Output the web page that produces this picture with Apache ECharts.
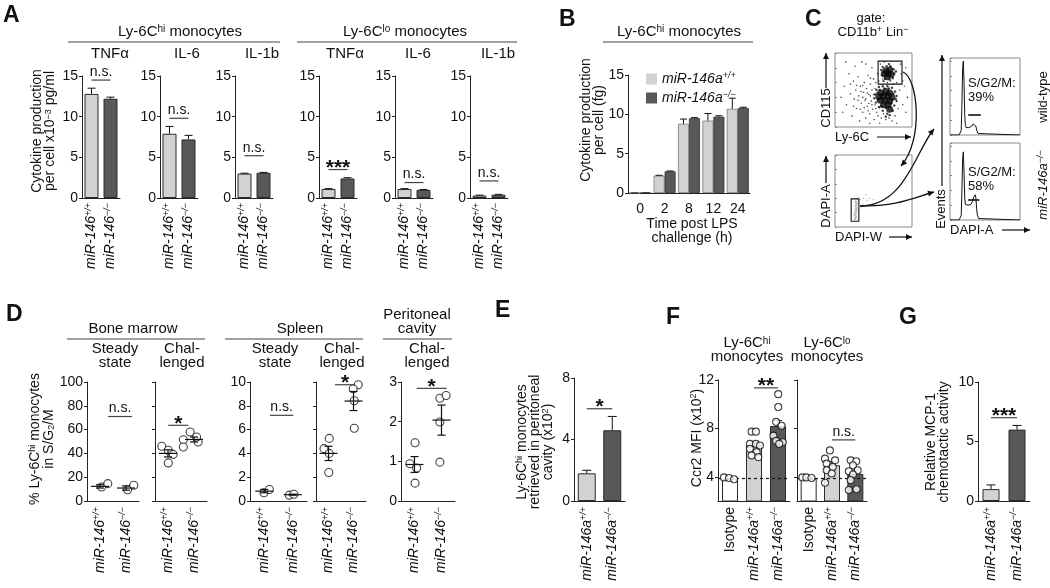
<!DOCTYPE html>
<html><head><meta charset="utf-8">
<script src="https://cdn.jsdelivr.net/npm/echarts@6.0.0/dist/echarts.min.js"></script>
<style>html,body{margin:0;padding:0;background:#fff}#c{width:1050px;height:588px}</style>
</head><body><div id="c"></div>
<script>
// ======================= DATA =======================
// ---- Panel A: cytokine production per cell ----
const aCats = ['miR-146+/+', 'miR-146−/−'];
const aTitles = ['TNFα', 'IL-6', 'IL-1b', 'TNFα', 'IL-6', 'IL-1b'];
const aWT = [12.8, 7.9, 3.0, 1.1, 1.1, 0.3];
const aWTErr = [0.7, 0.9, 0.05, 0.05, 0.05, 0.05];
const aKO = [12.2, 7.2, 3.1, 2.4, 1.0, 0.4];
const aKOErr = [0.2, 0.5, 0.05, 0.1, 0.05, 0.05];
const aSigText = ['n.s.', 'n.s.', 'n.s.', '***', 'n.s.', 'n.s.'];
const aSigY = [14.5, 9.8, 5.2, 3.5, 1.9, 2.1];
const aYMax = 15, aYStep = 5;

// ---- Panel B: time course ----
const bTimes = ['0', '2', '8', '12', '24'];
const bNames = ['miR-146a+/+', 'miR-146a−/−'];
const bWT = [0, 2.2, 8.8, 9.2, 10.7];
const bWTErr = [0, 0.05, 0.6, 0.9, 1.35];
const bKO = [0, 2.75, 9.5, 9.7, 10.8];
const bKOErr = [0, 0.05, 0.08, 0.12, 0.1];
const bYMax = 15, bYStep = 5;

// ---- Panel C: flow cytometry (plot units 0-100) ----
const cDotSparse = [[8,40],[10,20],[12,55],[14,88],[15,30],[18,72],[20,45],[22,15],[24,62],[25,38],[26,82],[27,50],[28,25],[30,68],[31,42],[32,8],[33,55],[34,32],[35,88],[36,20],[37,47],[38,60],[39,36],[40,12],[40,85],[41,52],[42,28],[43,70],[44,44],[45,18],[45,5],[46,58],[47,35],[48,50],[48,80],[49,24],[50,65],[51,10],[52,30],[53,60],[54,20],[55,72],[56,15],[57,62],[58,5],[58,26],[59,85],[60,12],[62,65],[63,18],[64,88],[66,10],[68,60],[70,12],[72,62],[74,8],[76,58],[78,15],[80,5],[80,60],[82,25],[84,50],[85,85],[86,72],[88,30],[88,62],[90,55],[92,20],[92,80],[94,40],[36,40],[42,46],[38,26],[44,32],[46,42],[34,48],[40,38],[48,30],[30,36],[28,56],[50,44],[43,22],[52,52],[36,56],[46,66],[33,24],[55,35],[53,25],[24,28],[20,58]];
const cDotHalo = [[52,44],[54,50],[57,54],[62,55],[68,55],[74,53],[78,48],[80,42],[80,35],[77,29],[75,22],[68,18],[62,22],[57,27],[53,33],[51,39],[55,46],[76,45],[60,28],[73,32],[56,38],[66,26],[79,38],[70,52],[64,52],[58,50],[71,16],[66,14],[60,77],[62,81],[67,82],[72,82],[76,78],[77,72],[75,66],[71,64],[65,65],[61,70],[70,85],[79,75],[63,62]];
const cDotCore = [[60,46],[66,48],[71,46],[57,41],[63,42],[69,42],[74,40],[59,36],[65,36],[71,35],[63,30],[69,30],[71,24],[66,76],[71,77],[64,72],[69,72],[73,71],[68,68]];
const cGateHi = [56, 58, 87, 89];
const cDapiGated = [[26,11],[27,14],[26,17],[27,20],[27,23],[28,26],[27,29],[28,32],[27,35]];
const cDapiOther = [[33,38],[37,40],[42,37],[36,32],[45,40],[31,41],[40,45],[50,38],[34,28]];
const cGateDapi = [21, 8, 31, 39];
const hWT = [[0,0],[13,0],[15,1],[16,6],[17,40],[18,88],[19,100],[20,72],[21,28],[22,13],[23,10],[25,9],[27,10],[29,11],[31,12],[33,15],[35,16],[37,12],[38,7],[40,2],[42,0],[100,0]];
const hKO = [[0,0],[13,0],[15,1],[16,6],[17,38],[18,82],[19,92],[20,66],[21,30],[22,21],[24,19],[26,20],[28,18],[30,21],[32,25],[34,31],[35,33],[36,34],[37,30],[38,16],[39,7],[41,2],[43,0],[100,0]];
const hGateWT = [26, 44, 27];
const hGateKO = [26, 42, 27];
const hLabels = ['S/G2/M:\n39%', 'S/G2/M:\n58%'];

// ---- Panel D: % in S/G2/M (x = category position incl. jitter) ----
const dCats = ['miR-146+/+', 'miR-146−/−'];
const dWT = [
  [[0.56,11.8],[0.8,14.6]],
  [[0.26,46],[0.51,42.6],[0.7,39.2],[0.51,32]],
  [[0.49,0.69],[0.68,0.97]],
  [[0.53,5.26],[0.32,4.4],[0.53,4.0],[0.51,2.4]],
  [[0.52,1.47],[0.33,0.94],[0.58,0.83],[0.52,0.45]]
];
const dKO = [
  [[1.56,9.5],[1.8,13.2]],
  [[1.35,58],[1.09,51.5],[1.66,49.6],[1.6,53.8],[1.09,45.4]],
  [[1.38,0.49],[1.54,0.57]],
  [[1.69,9.77],[1.49,9.43],[1.53,8.43],[1.53,6.11]],
  [[1.44,2.59],[1.67,2.66],[1.44,1.99],[1.44,0.98]]
];
const dMean = [[12.3,10.9],[40,51.7],[0.83,0.53],[4.0,8.4],[0.92,2.04]];
const dSem = [[1.4,1.8],[3.0,2.1],[0.14,0.04],[0.6,0.8],[0.2,0.38]];
const dSig = [[0.81,1.73,71],[0.51,1.28,63.6],[0.7,1.52,7.2],[0.76,1.56,9.77],[0.58,1.69,2.84]];
const dSigText = ['n.s.', '*', 'n.s.', '*', '*'];
const dYMax = [100, 100, 10, 10, 3];
const dYStep = [20, 20, 2, 2, 1];
const dYLabels = [true, false, true, false, true];

// ---- Panel E ----
const eCats = ['miR-146a+/+', 'miR-146a−/−'];
const eMean = [1.8, 4.6];
const eErr = [0.2, 0.9];
const eSig = [0, 1, 6.0];
const eYMax = 8, eYStep = 4;

// ---- Panel F: Ccr2 MFI ----
const fCats = ['Isotype', 'miR-146a+/+', 'miR-146a−/−'];
const fHiMean = [3.8, 6.6, 8.2];
const fHiErr = [0.05, 0.2, 0.45];
const fLoMean = [3.85, 4.95, 4.25];
const fLoErr = [0.05, 0.3, 0.3];
const fHiPts = [
  [[-0.25,3.95],[-0.04,3.9],[0.17,3.8]],
  [[-0.1,7.73],[0.08,7.73],[-0.17,6.72],[0.08,6.72],[0.25,6.59],[-0.17,6.31],[0.11,6.04],[-0.1,5.77],[0.18,5.63]],
  [[0.01,10.83],[0.01,9.77],[-0.08,8.54],[0.15,8.22],[-0.19,7.4],[-0.08,6.97],[0.2,6.86],[0.05,6.72]]
];
const fLoPts = [
  [[-0.27,3.95],[-0.1,3.95],[0.12,3.9]],
  [[-0.09,6.18],[-0.3,5.5],[0.13,5.36],[-0.23,5.09],[0.03,4.82],[-0.23,4.54],[-0.01,4.27],[-0.3,3.51]],
  [[-0.2,5.36],[0.04,5.28],[-0.1,4.95],[0.1,4.54],[-0.28,4.46],[-0.1,4.19],[-0.2,3.73],[-0.28,2.91],[0.05,2.97]]
];
const fDashY = 3.9;
const fYMin = 2, fYMax = 12;
const fYTicks = [4, 8, 12];
const fHiSig = [0.9, 1.85, 11.35];
const fLoSig = [1.0, 1.9, 7.05];
const fSigText = ['**', 'n.s.'];

// ---- Panel G ----
const gCats = ['miR-146a+/+', 'miR-146a−/−'];
const gMean = [1.0, 6.0];
const gErr = [0.35, 0.35];
const gSig = [0, 1, 7.0];
const gYMax = 10, gYStep = 5;

// ======================= STYLE / BUILD =======================
const FF = '"Liberation Sans", Arial, Helvetica, sans-serif';
const INK = '#111';
const AX = '#222';
const WT_FILL = '#d2d2d2';
const KO_FILL = '#585858';
const ISO_FILL = '#ffffff';

const grids = [], xAxes = [], yAxes = [], series = [], graphic = [];

function richFor(size) {
  const sup = Math.round(size * 0.66);
  return {
    n: {fontFamily: FF, fontSize: size, color: INK, fill: INK, lineHeight: size + 2},
    i: {fontFamily: FF, fontSize: size, fontStyle: 'italic', color: INK, fill: INK, lineHeight: size + 2},
    s: {fontFamily: FF, fontSize: sup, color: INK, fill: INK, verticalAlign: 'top', lineHeight: sup + 1},
    si: {fontFamily: FF, fontSize: sup, fontStyle: 'italic', color: INK, fill: INK, verticalAlign: 'top', lineHeight: sup + 1},
    b: {fontFamily: FF, fontSize: sup, color: INK, fill: INK, verticalAlign: 'bottom', lineHeight: sup + 1}
  };
}
function catLabel(v) {
  const m = /^(.*?)([+−]\/[+−])$/.exec(v);
  if (m) return '{i|' + m[1] + '}{si|' + m[2] + '}';
  return '{n|' + v + '}';
}
function grid(left, top, width, height, extra) {
  grids.push(Object.assign({left: left, top: top, width: width, height: height}, extra || {}));
  return grids.length - 1;
}
function catAxis(gi, cats, o) {
  o = o || {};
  xAxes.push({type: 'category', gridIndex: gi, data: cats, boundaryGap: true,
    axisLine: {show: true, onZero: false, lineStyle: {color: AX, width: 1}},
    axisTick: {show: false},
    axisLabel: {show: true, interval: 0, rotate: o.rotate === undefined ? 90 : o.rotate, margin: o.margin || 5,
      formatter: o.fmt || catLabel, rich: richFor(14), color: INK, fontFamily: FF, fontSize: 14},
    splitLine: {show: false}});
  return xAxes.length - 1;
}
function hiddenX(gi, min, max) {
  xAxes.push({type: 'value', gridIndex: gi, min: min, max: max, show: false, splitLine: {show: false}});
  return xAxes.length - 1;
}
function valY(gi, min, max, interval, o) {
  o = o || {};
  const ax = {type: 'value', gridIndex: gi, min: min, max: max,
    axisLine: {show: true, lineStyle: {color: AX, width: 1}},
    axisTick: {show: true, length: 3, lineStyle: {color: AX}},
    axisLabel: {show: o.labels !== false, color: INK, fontFamily: FF, fontSize: 14, margin: 4},
    splitLine: {show: false}};
  if (interval) ax.interval = interval;
  if (o.custom) { ax.axisTick.customValues = o.custom; ax.axisLabel.customValues = o.custom; }
  yAxes.push(ax);
  return yAxes.length - 1;
}
function barStyle(fill) { return {color: fill, borderColor: '#2a2a2a', borderWidth: 1}; }
function errSeries(xi, yi, items, offsetPx, capW) {
  series.push({type: 'custom', xAxisIndex: xi, yAxisIndex: yi, z: 4, silent: true,
    data: items, encode: {x: 0, y: 1},
    renderItem: function (params, api) {
      const it = items[params.dataIndex];
      const pT = api.coord([it[0], it[1] + it[2]]);
      const pB = api.coord([it[0], it[1]]);
      const x = pT[0] + offsetPx;
      return {type: 'group', children: [
        {type: 'line', shape: {x1: x, y1: pB[1], x2: x, y2: pT[1]}, style: {stroke: INK, lineWidth: 1}},
        {type: 'line', shape: {x1: x - capW / 2, y1: pT[1], x2: x + capW / 2, y2: pT[1]}, style: {stroke: INK, lineWidth: 1}}]};
    }});
}
function meanSem(xi, yi, items) {
  series.push({type: 'custom', xAxisIndex: xi, yAxisIndex: yi, z: 6, silent: true,
    data: items, encode: {x: 0, y: 1},
    renderItem: function (params, api) {
      const it = items[params.dataIndex];
      const pM = api.coord([it[0], it[1]]);
      const pT = api.coord([it[0], it[1] + it[2]]);
      const pB = api.coord([it[0], it[1] - it[2]]);
      const x = pM[0], st = {stroke: INK, lineWidth: 1.2};
      return {type: 'group', children: [
        {type: 'line', shape: {x1: x - 9, y1: pM[1], x2: x + 9, y2: pM[1]}, style: st},
        {type: 'line', shape: {x1: x, y1: pB[1], x2: x, y2: pT[1]}, style: st},
        {type: 'line', shape: {x1: x - 4, y1: pT[1], x2: x + 4, y2: pT[1]}, style: st},
        {type: 'line', shape: {x1: x - 4, y1: pB[1], x2: x + 4, y2: pB[1]}, style: st}]};
    }});
}
function sigSeries(xi, yi, item, label) {
  series.push({type: 'custom', xAxisIndex: xi, yAxisIndex: yi, z: 7, silent: true,
    data: [item], encode: {x: 0, y: 2},
    renderItem: function (params, api) {
      const p1 = api.coord([item[0], item[2]]), p2 = api.coord([item[1], item[2]]);
      const star = label.indexOf('*') >= 0;
      return {type: 'group', children: [
        {type: 'line', shape: {x1: p1[0], y1: p1[1], x2: p2[0], y2: p1[1]}, style: {stroke: '#444', lineWidth: 1.2}},
        {type: 'text', x: (p1[0] + p2[0]) / 2, y: p1[1] + (star ? 9 : -1),
          style: {text: label, textAlign: 'center', align: 'center', textVerticalAlign: 'bottom', verticalAlign: 'bottom',
            font: (star ? 'bold 21px ' : '14px ') + FF, fill: INK}}]};
    }});
}
function pointSeries(xi, yi, pts, size) {
  series.push({type: 'scatter', xAxisIndex: xi, yAxisIndex: yi, z: 5, silent: true,
    symbol: 'circle', symbolSize: size || 8, data: pts,
    itemStyle: {color: '#fff', borderColor: INK, borderWidth: 1.1}});
}
function text(x, y, str, o) {
  o = o || {};
  const size = o.size || 15;
  graphic.push({type: 'text', x: x, y: y, rotation: o.rot || 0, silent: true, z: 50,
    style: {text: str, rich: richFor(size), fill: INK,
      font: (o.italic ? 'italic ' : '') + (o.bold ? 'bold ' : '') + size + 'px ' + FF,
      textAlign: o.align || 'center', align: o.align || 'center',
      textVerticalAlign: o.va || 'middle', verticalAlign: o.va || 'middle',
      lineHeight: o.lh || size + 1}});
}
function hline(x1, x2, y) {
  graphic.push({type: 'line', silent: true, z: 50, shape: {x1: x1, y1: y, x2: x2, y2: y}, style: {stroke: '#444', lineWidth: 1.2}});
}
function arrowHead(x, y, ang, s) {
  const w = s * 0.5;
  const bx = x - Math.cos(ang) * s, by = y - Math.sin(ang) * s;
  const px = -Math.sin(ang) * w, py = Math.cos(ang) * w;
  graphic.push({type: 'polygon', silent: true, z: 51, shape: {points: [[x, y], [bx + px, by + py], [bx - px, by - py]]}, style: {fill: INK}});
}
function arrow(x1, y1, x2, y2) {
  graphic.push({type: 'line', silent: true, z: 50, shape: {x1: x1, y1: y1, x2: x2, y2: y2}, style: {stroke: INK, lineWidth: 1.2}});
  arrowHead(x2, y2, Math.atan2(y2 - y1, x2 - x1), 6);
}
function curve(x1, y1, c1x, c1y, c2x, c2y, x2, y2) {
  graphic.push({type: 'bezierCurve', silent: true, z: 50,
    shape: {x1: x1, y1: y1, x2: x2, y2: y2, cpx1: c1x, cpy1: c1y, cpx2: c2x, cpy2: c2y},
    style: {stroke: INK, lineWidth: 1.3, fill: 'none'}});
  arrowHead(x2, y2, Math.atan2(y2 - c2y, x2 - c2x), 6);
}
const ROT = Math.PI / 2;

// ---------- Panel A ----------
const aLefts = [82, 160, 235, 319, 395, 470];
aTitles.forEach(function (t, k) {
  const gi = grid(aLefts[k], 76, 38, 122);
  const xi = catAxis(gi, aCats, {margin: 5});
  const yi = valY(gi, 0, aYMax, aYStep);
  series.push({type: 'bar', xAxisIndex: xi, yAxisIndex: yi, barWidth: 14, silent: true, z: 3,
    data: [{value: aWT[k], itemStyle: barStyle(WT_FILL)}, {value: aKO[k], itemStyle: barStyle(KO_FILL)}]});
  errSeries(xi, yi, [[0, aWT[k], aWTErr[k]], [1, aKO[k], aKOErr[k]]], 0, 8);
  sigSeries(xi, yi, [0, 1, aSigY[k]], aSigText[k]);
});

// ---------- Panel B ----------
(function () {
  const gi = grid(628, 75, 122, 118);
  const xi = catAxis(gi, bTimes, {rotate: 0, margin: 8, fmt: function (v) { return '{n|' + v + '}'; }});
  const yi = valY(gi, 0, bYMax, bYStep);
  series.push({type: 'bar', name: bNames[0], xAxisIndex: xi, yAxisIndex: yi, barWidth: 11, barGap: '0%', silent: true,
    data: bWT, itemStyle: {color: WT_FILL, borderColor: '#777', borderWidth: 0.8}});
  series.push({type: 'bar', name: bNames[1], xAxisIndex: xi, yAxisIndex: yi, barWidth: 11, barGap: '0%', silent: true,
    data: bKO, itemStyle: {color: KO_FILL, borderColor: '#333', borderWidth: 0.8}});
  errSeries(xi, yi, bWT.map(function (v, i) { return [i, v, bWTErr[i]]; }), -5.5, 7);
  errSeries(xi, yi, bKO.map(function (v, i) { return [i, v, bKOErr[i]]; }), 5.5, 7);
})();

// ---------- Panel C ----------
function flowGrid(l, t, w, h) {
  const gi = grid(l, t, w, h, {show: true, borderColor: '#8a8a8a', borderWidth: 1, backgroundColor: 'transparent'});
  xAxes.push({type: 'value', gridIndex: gi, min: 0, max: 100, axisLine: {show: false}, axisTick: {show: false}, axisLabel: {show: false}, splitLine: {show: false}});
  yAxes.push({type: 'value', gridIndex: gi, min: 0, max: 100, interval: 20, axisLine: {show: false},
    axisTick: {show: true, inside: true, length: 2, lineStyle: {color: '#8a8a8a'}}, axisLabel: {show: false}, splitLine: {show: false}});
  return [xAxes.length - 1, yAxes.length - 1];
}
function dots(ax, pts, size, color, z) {
  const s = {type: 'scatter', xAxisIndex: ax[0], yAxisIndex: ax[1], symbol: 'circle', symbolSize: size, silent: true, z: z || 3,
    data: pts, itemStyle: {color: color, borderWidth: 0}};
  series.push(s);
  return s;
}
function gateArea(s, g) {
  s.markArea = {silent: true, itemStyle: {color: 'rgba(0,0,0,0)', borderColor: INK, borderWidth: 1.1},
    data: [[{coord: [g[0], g[1]]}, {coord: [g[2], g[3]]}]]};
}
(function () {
  const a1 = flowGrid(835, 53, 77, 74);
  dots(a1, cDotSparse, 1.6, '#222');
  dots(a1, cDotHalo, 2.4, '#111');
  const core = dots(a1, cDotCore, 7, '#0a0a0a');
  gateArea(core, cGateHi);
  const a2 = flowGrid(835, 155, 77, 72);
  dots(a2, cDapiOther, 1.6, '#aaa');
  const g2 = dots(a2, cDapiGated, 3, '#b5b5b5');
  gateArea(g2, cGateDapi);
  const hists = [[hWT, hGateWT, 58], [hKO, hGateKO, 143]];
  hists.forEach(function (h) {
    const gi = grid(950, h[2], 70, 77, {show: true, borderColor: '#8a8a8a', borderWidth: 1, backgroundColor: 'transparent'});
    xAxes.push({type: 'value', gridIndex: gi, min: 0, max: 100, axisLine: {show: false}, axisTick: {show: false}, axisLabel: {show: false}, splitLine: {show: false}});
    yAxes.push({type: 'value', gridIndex: gi, min: 0, max: 104, interval: 20, axisLine: {show: false},
      axisTick: {show: true, inside: true, length: 2, lineStyle: {color: '#8a8a8a'}}, axisLabel: {show: false}, splitLine: {show: false}});
    series.push({type: 'line', xAxisIndex: xAxes.length - 1, yAxisIndex: yAxes.length - 1, data: h[0], showSymbol: false, silent: true,
      lineStyle: {color: INK, width: 1}, z: 3,
      markLine: {silent: true, symbol: 'none', label: {show: false}, lineStyle: {color: INK, width: 1.6, type: 'solid'},
        data: [[{coord: [h[1][0], h[1][2]]}, {coord: [h[1][1], h[1][2]]}]]}});
  });
})();

// ---------- Panel D ----------
const dLefts = [87, 155, 250, 316, 401];
const dWidths = [52, 52, 57, 50, 54];
dWT.forEach(function (wt, k) {
  const gi = grid(dLefts[k], 382, dWidths[k], 119);
  catAxis(gi, dCats, {margin: 6});
  const xv = hiddenX(gi, 0, 2);
  const yi = valY(gi, 0, dYMax[k], dYStep[k], {labels: dYLabels[k]});
  pointSeries(xv, yi, wt, 8);
  pointSeries(xv, yi, dKO[k], 8);
  meanSem(xv, yi, [[0.5, dMean[k][0], dSem[k][0]], [1.5, dMean[k][1], dSem[k][1]]]);
  sigSeries(xv, yi, dSig[k], dSigText[k]);
});

// ---------- Panel E ----------
(function () {
  const gi = grid(574, 378, 51, 123);
  const xi = catAxis(gi, eCats, {margin: 6});
  const yi = valY(gi, 0, eYMax, eYStep);
  series.push({type: 'bar', xAxisIndex: xi, yAxisIndex: yi, barWidth: 18, silent: true, z: 3,
    data: [{value: eMean[0], itemStyle: barStyle(WT_FILL)}, {value: eMean[1], itemStyle: barStyle(KO_FILL)}]});
  errSeries(xi, yi, [[0, eMean[0], eErr[0]], [1, eMean[1], eErr[1]]], 0, 9);
  sigSeries(xi, yi, eSig, '*');
})();

// ---------- Panel F ----------
function fPanel(left, width, means, errs, pts, sig, sigText, labels) {
  const gi = grid(left, 380, width, 121);
  const xi = catAxis(gi, fCats, {margin: 6});
  const xv = hiddenX(gi, 0, 3);
  const yi = valY(gi, fYMin, fYMax, null, {custom: fYTicks, labels: labels});
  series.push({type: 'bar', xAxisIndex: xi, yAxisIndex: yi, barWidth: 16, silent: true, z: 3,
    data: [{value: means[0], itemStyle: barStyle(ISO_FILL)}, {value: means[1], itemStyle: barStyle(WT_FILL)}, {value: means[2], itemStyle: barStyle(KO_FILL)}],
    markLine: {silent: true, symbol: 'none', label: {show: false}, lineStyle: {color: INK, width: 1.2, type: [3, 3]}, data: [{yAxis: fDashY}]}});
  errSeries(xi, yi, means.map(function (m, i) { return [i, m, errs[i]]; }), 0, 8);
  pts.forEach(function (grp, i) {
    pointSeries(xv, yi, grp.map(function (p) { return [i + 0.5 + p[0], p[1]]; }), 7);
  });
  sigSeries(xi, yi, sig, sigText);
}
fPanel(718, 72, fHiMean, fHiErr, fHiPts, fHiSig, fSigText[0], true);
fPanel(797, 70, fLoMean, fLoErr, fLoPts, fLoSig, fSigText[1], false);

// ---------- Panel G ----------
(function () {
  const gi = grid(978, 382, 52, 119);
  const xi = catAxis(gi, gCats, {margin: 6});
  const yi = valY(gi, 0, gYMax, gYStep);
  series.push({type: 'bar', xAxisIndex: xi, yAxisIndex: yi, barWidth: 17, silent: true, z: 3,
    data: [{value: gMean[0], itemStyle: barStyle(WT_FILL)}, {value: gMean[1], itemStyle: barStyle(KO_FILL)}]});
  errSeries(xi, yi, [[0, gMean[0], gErr[0]], [1, gMean[1], gErr[1]]], 0, 9);
  sigSeries(xi, yi, gSig, '***');
})();

// ---------- Text, headers & annotations ----------
[['A', 3, 4], ['B', 559, 8], ['C', 805, 8], ['D', 6, 303], ['E', 495, 299], ['F', 666, 306], ['G', 899, 306]].forEach(function (l) {
  text(l[1], l[2], l[0], {size: 23, bold: true, align: 'left', va: 'top'});
});
// Panel A headers
text(180, 32, 'Ly-6C{s|hi} monocytes');
hline(68, 280, 42);
text(405, 32, 'Ly-6C{s|lo} monocytes');
hline(297, 517, 42);
[110, 187, 262, 345, 418, 498].forEach(function (x, k) { text(x, 54, aTitles[k]); });
text(44, 131, 'Cytokine production\nper cell x10{s|−3} pg/ml', {rot: ROT, size: 14, lh: 13});
// Panel B
text(679, 32, 'Ly-6C{s|hi} monocytes');
hline(603, 753, 42);
text(593, 120, 'Cytokine production\nper cell (fg)', {rot: ROT, size: 14, lh: 13});
text(692, 231, 'Time post LPS\nchallenge (h)', {size: 14, lh: 14});
// Panel C
text(871, 18, 'gate:', {size: 13});
text(873, 32, 'CD11b{s|+} Lin{s|−}', {size: 13});
text(826, 108, 'CD115', {rot: ROT, size: 13});
arrow(826, 88, 826, 53);
text(835, 137, 'Ly-6C', {size: 13, align: 'left'});
arrow(877, 137, 911, 137);
text(826, 206, 'DAPI-A', {rot: ROT, size: 13});
arrow(826, 183, 826, 156);
text(835, 237, 'DAPI-W', {size: 13, align: 'left'});
arrow(889, 237, 912, 237);
text(941, 209, 'Events', {rot: ROT, size: 13});
arrow(942, 186, 942, 55);
text(950, 230, 'DAPI-A', {size: 13, align: 'left'});
arrow(1002, 230, 1030, 230);
text(968, 90, hLabels[0], {size: 13, align: 'left', lh: 14});
text(968, 179, hLabels[1], {size: 13, align: 'left', lh: 14});
text(1043, 97, 'wild-type', {rot: ROT, size: 13});
text(1043, 185, '{i|miR-146a}{si|−/−}', {rot: ROT, size: 13});
curve(903, 72, 918, 78, 924, 140, 901, 166);
curve(860, 206, 905, 206, 915, 152, 934, 129);
curve(860, 206, 900, 206, 915, 197, 934, 192);
// Panel D headers
text(133, 329, 'Bone marrow');
hline(67, 205, 339);
text(115, 356, 'Steady\nstate', {lh: 14});
text(182, 356, 'Chal-\nlenged', {lh: 14});
text(300, 329, 'Spleen');
hline(225, 363, 339);
text(275, 356, 'Steady\nstate', {lh: 14});
text(342, 356, 'Chal-\nlenged', {lh: 14});
text(417, 322, 'Peritoneal\ncavity', {lh: 14});
hline(383, 452, 339);
text(427, 356, 'Chal-\nlenged', {lh: 14});
text(42, 439, '% Ly-6C{s|hi} monocytes\nin S/G{b|2}/M', {rot: ROT, size: 14, lh: 14});
// Panel E
text(535, 442, 'Ly-6C{s|hi} monocytes\nretrieved in peritoneal\ncavity (x10{s|2})', {rot: ROT, size: 14, lh: 13});
// Panel F
text(747, 350, 'Ly-6C{s|hi}\nmonocytes', {lh: 14});
text(827, 350, 'Ly-6C{s|lo}\nmonocytes', {lh: 14});
text(697, 438, 'Ccr2 MFI (x10{s|2})', {rot: ROT, size: 14});
// Panel G
text(938, 442, 'Relative MCP-1\nchemotactic activity', {rot: ROT, size: 14, lh: 13});

const chart = echarts.init(document.getElementById('c'), null, {renderer: 'canvas', width: 1050, height: 588});
chart.setOption({
  animation: false,
  backgroundColor: '#ffffff',
  textStyle: {fontFamily: FF},
  legend: {data: bNames, left: 641, top: 66, orient: 'vertical', itemWidth: 11, itemHeight: 11, itemGap: 4, icon: 'rect',
    selectedMode: false, formatter: catLabel, itemStyle: {borderWidth: 0},
    textStyle: {fontFamily: FF, fontSize: 14, color: INK, rich: richFor(14)}},
  grid: grids, xAxis: xAxes, yAxis: yAxes, series: series,
  graphic: {elements: graphic}
});
</script></body></html>
